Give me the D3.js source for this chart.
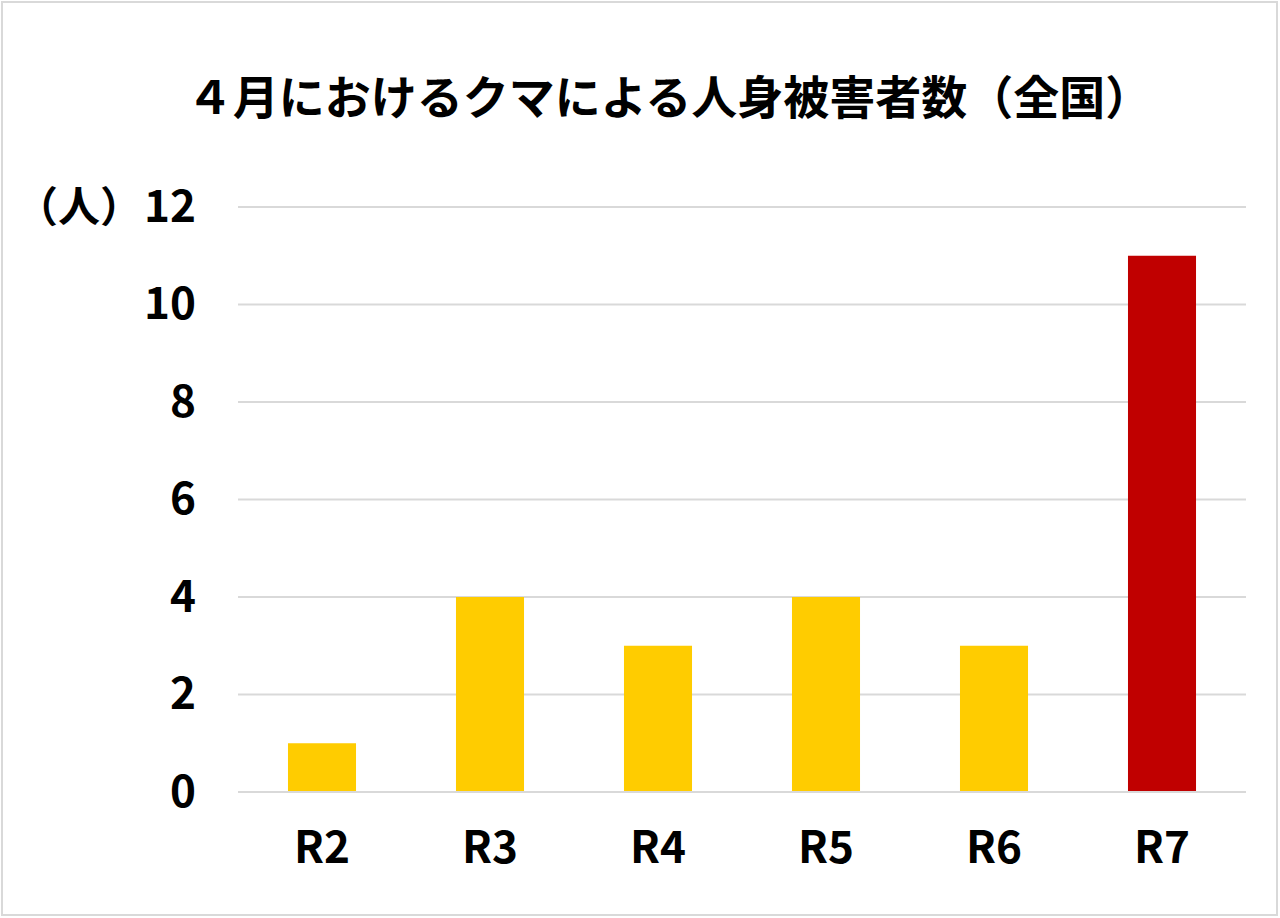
<!DOCTYPE html>
<html>
<head>
<meta charset="utf-8">
<script src="https://cdn.jsdelivr.net/npm/d3@7"></script>
<style>
  html, body { margin: 0; padding: 0; background: #fff; }
  svg { display: block; font-family: "Noto Sans CJK JP", "Noto Sans", sans-serif; }
</style>
</head>
<body>
<svg id="chart" width="1280" height="918"></svg>
<script>
(function() {
    const years = ["R2", "R3", "R4", "R5", "R6", "R7"];
    const victims = [1, 4, 3, 4, 3, 11];
    const barColors = ["#FFCC00", "#FFCC00", "#FFCC00", "#FFCC00", "#FFCC00", "#C00000"];
    const yTicks = [0, 2, 4, 6, 8, 10, 12];
    const title = "４月におけるクマによる人身被害者数（全国）";
    const unitLabel = "（人）";

    const svg = d3.select("#chart"),
        margin = { top: 207, right: 34, bottom: 126, left: 238 },
        width = +svg.attr("width") - margin.left - margin.right,
        height = +svg.attr("height") - margin.top - margin.bottom;

    // outer frame
    svg.append("rect")
        .attr("x", 2).attr("y", 2)
        .attr("width", 1275).attr("height", 913)
        .attr("fill", "#fff")
        .attr("stroke", "#d9d9d9")
        .attr("stroke-width", 2);

    const g = svg.append("g").attr("transform", `translate(${margin.left},${margin.top})`);

    const x = d3.scaleBand().domain(years).range([0, width]);
    const y = d3.scaleLinear().domain([0, 12]).range([height, 0]);

    // gridlines
    g.selectAll(".grid")
        .data(yTicks)
        .enter().append("line")
        .attr("x1", 0).attr("x2", width)
        .attr("y1", d => y(d)).attr("y2", d => y(d))
        .attr("stroke", "#d9d9d9")
        .attr("stroke-width", 2);

    const barW = x.bandwidth() * 0.405;
    g.selectAll(".bar")
        .data(years)
        .enter().append("rect")
        .attr("x", d => x(d) + (x.bandwidth() - barW) / 2)
        .attr("y", (d, i) => y(victims[i]))
        .attr("width", barW)
        .attr("height", (d, i) => y(0) - y(victims[i]))
        .attr("fill", (d, i) => barColors[i]);

    // y axis labels
    const yAxis = d3.axisLeft(y).tickValues(yTicks).tickSize(0).tickPadding(42);
    g.append("g")
        .call(yAxis)
        .call(a => a.select(".domain").remove())
        .selectAll("text")
        .attr("font-family", "'Noto Sans CJK JP', sans-serif")
        .attr("font-size", 44)
        .attr("font-weight", "bold")
        .attr("fill", "#000");

    // x axis labels
    const xAxis = d3.axisBottom(x).tickSize(0).tickPadding(40);
    g.append("g")
        .attr("transform", `translate(0,${height})`)
        .call(xAxis)
        .call(a => a.select(".domain").remove())
        .selectAll("text")
        .attr("font-family", "'Noto Sans CJK JP', sans-serif")
        .attr("font-size", 44)
        .attr("font-weight", "bold")
        .attr("fill", "#000");

    // baseline redrawn over bars
    g.append("line")
        .attr("x1", 0).attr("x2", width)
        .attr("y1", y(0)).attr("y2", y(0))
        .attr("stroke", "#d9d9d9")
        .attr("stroke-width", 2);

    svg.append("text")
        .attr("x", 16).attr("y", 207)
        .attr("dy", "0.36em")
        .attr("font-size", 42)
        .attr("font-weight", "bold")
        .text(unitLabel);

    svg.append("text")
        .attr("x", 669).attr("y", 97)
        .attr("dy", "0.36em")
        .attr("text-anchor", "middle")
        .attr("font-size", 46)
        .attr("font-weight", "bold")
        .text(title);
})();
</script>
</body>
</html>
